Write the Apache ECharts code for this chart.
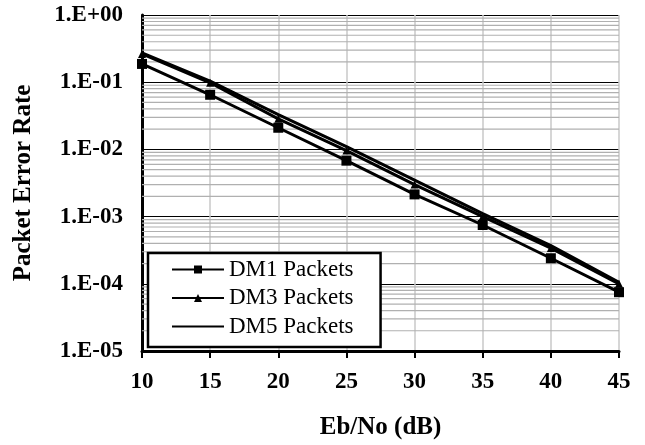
<!DOCTYPE html>
<html>
<head>
<meta charset="utf-8">
<script src="https://cdn.jsdelivr.net/npm/echarts@6/dist/echarts.min.js"></script>
<style>
html,body{margin:0;padding:0;background:#fff;}
#chart{width:645px;height:445px;}
</style>
</head>
<body>
<div id="chart"></div>
<script>
// ---- data ----
const ebno = [10, 15, 20, 25, 30, 35, 40, 45];
const dm1 = [0.187, 0.065, 0.021, 0.0068, 0.00214, 0.00075, 0.00024, 0.000075];
const dm3 = [0.263, 0.098, 0.0285, 0.0096, 0.0030, 0.00100, 0.00034, 0.000100];
const dm5 = [0.272, 0.104, 0.033, 0.0110, 0.0035, 0.00111, 0.00037, 0.000105];
const seriesNames = ['DM1 Packets', 'DM3 Packets', 'DM5 Packets'];
const yTickLabels = ['1.E-05', '1.E-04', '1.E-03', '1.E-02', '1.E-01', '1.E+00'];
const xTicks = [10, 15, 20, 25, 30, 35, 40, 45];
// minor gridlines of the log axis (2..9 x each decade)
const decades = [1e-5, 1e-4, 1e-3, 1e-2, 1e-1];
const minorMultipliers = [2, 3, 4, 5, 6, 7, 8, 9];

const minorValues = [];
decades.forEach(d => minorMultipliers.forEach(m => minorValues.push(d * m)));

const pairs = arr => ebno.map((x, i) => [x, arr[i]]);
const font = 'Liberation Serif';
const xMin = xTicks[0], xMax = xTicks[xTicks.length - 1];

const minorSeries = minorValues.map((v, i) => ({
  type: 'line', name: 'minor' + i, silent: true, z: 1,
  data: [[xMin, v], [xMax, v]],
  symbol: 'none', showSymbol: false,
  lineStyle: {color: '#b0b0b0', width: 1.2},
  emphasis: {disabled: true},
  tooltip: {show: false}
}));

const chart = echarts.init(document.getElementById('chart'), null, {renderer: 'canvas'});
chart.setOption({
  animation: false,
  backgroundColor: '#fff',
  grid: {left: 142, right: 26, top: 15, bottom: 93},
  xAxis: {
    type: 'value', min: xMin, max: xMax, interval: 5,
    name: 'Eb/No (dB)', nameLocation: 'middle', nameGap: 64,
    nameTextStyle: {fontFamily: font, fontWeight: 'bold', fontSize: 25, color: '#000'},
    axisLine: {onZero: false, lineStyle: {color: '#000', width: 3}},
    axisTick: {show: true, length: 7, inside: false, lineStyle: {color: '#000', width: 2}},
    axisLabel: {margin: 20, fontFamily: font, fontWeight: 'bold', fontSize: 23, color: '#000',
      formatter: v => String(xTicks[xTicks.indexOf(v)])},
    splitLine: {show: true, lineStyle: {color: '#c8c8c8', width: 1.5}}
  },
  yAxis: {
    type: 'log', logBase: 10, min: 1e-5, max: 1,
    name: 'Packet Error Rate', nameLocation: 'middle', nameGap: 106,
    nameTextStyle: {fontFamily: font, fontWeight: 'bold', fontSize: 25, color: '#000'},
    axisLine: {show: true, onZero: false, lineStyle: {color: '#000', width: 3}},
    axisTick: {show: false},
    axisLabel: {margin: 19, fontFamily: font, fontWeight: 'bold', fontSize: 23, color: '#000',
      formatter: v => yTickLabels[Math.round(Math.log10(v)) + 5]},
    splitLine: {show: true, lineStyle: {color: '#000', width: 1}}
  },
  legend: {
    orient: 'vertical', left: 148, top: 253,
    data: [
      {name: seriesNames[0]},
      {name: seriesNames[1]},
      {name: seriesNames[2], itemStyle: {color: 'transparent', borderColor: 'transparent', opacity: 0}}
    ],
    backgroundColor: '#fff', borderColor: '#000', borderWidth: 2.5,
    padding: [5, 27, 9, 23],
    itemWidth: 52, itemHeight: 10, itemGap: 5.5,
    textStyle: {fontFamily: font, fontSize: 23, color: '#000', lineHeight: 23}
  },
  series: minorSeries.concat([
    {
      type: 'line', name: seriesNames[0], data: pairs(dm1), z: 5,
      symbol: 'rect', symbolSize: 10,
      lineStyle: {color: '#000', width: 3}, itemStyle: {color: '#000'}
    },
    {
      type: 'line', name: seriesNames[1], data: pairs(dm3), z: 5,
      symbol: 'triangle', symbolSize: 8,
      lineStyle: {color: '#000', width: 3}, itemStyle: {color: '#000'}
    },
    {
      type: 'line', name: seriesNames[2], data: pairs(dm5), z: 5,
      symbol: 'none',
      lineStyle: {color: '#000', width: 3}, itemStyle: {color: '#000'}
    }
  ])
});
</script>
</body>
</html>
